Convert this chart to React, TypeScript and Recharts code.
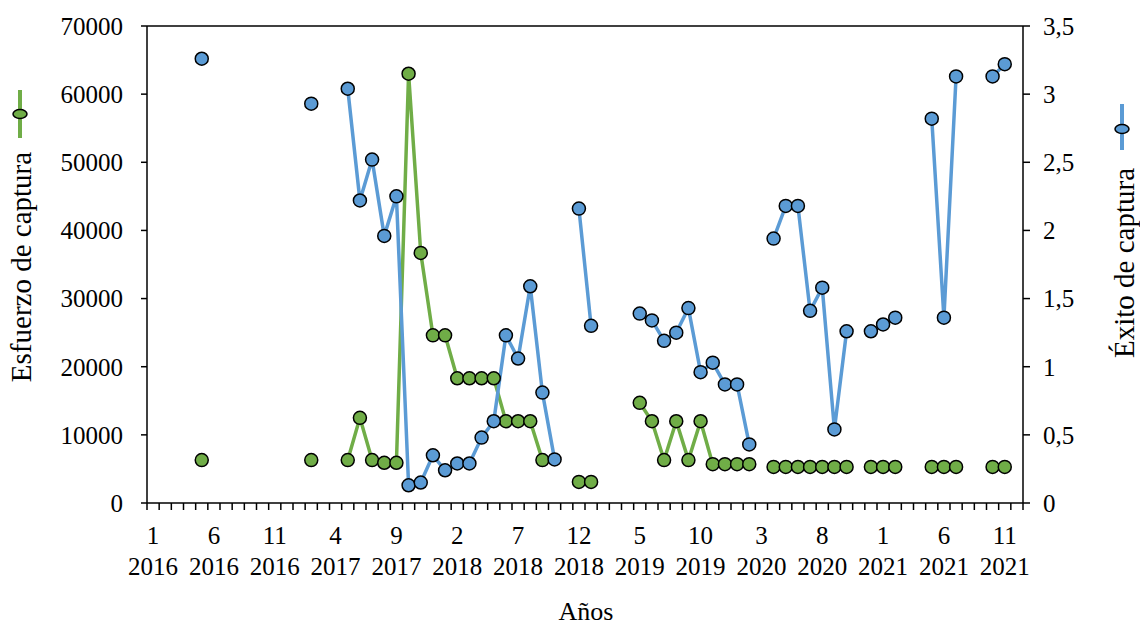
import { Line, LineChart, ReferenceLine, XAxis, YAxis } from 'recharts';

// monthly series, January 2016 to December 2021 (null = no sampling that month)
const esfuerzo: (number | null)[] = [
  null, null, null, null, 6300, null, null, null, null, null, null, null,
  null, 6300, null, null, 6300, 12500, 6300, 5900, 5900, 63000, 36700, 24600,
  24600, 18300, 18300, 18300, 18300, 12000, 12000, 12000, 6300, null, null, 3100,
  3100, null, null, null, 14700, 12000, 6300, 12000, 6300, 12000, 5700, 5700,
  5700, 5700, null, 5300, 5300, 5300, 5300, 5300, 5300, 5300, null, 5300,
  5300, 5300, null, null, 5300, 5300, 5300, null, null, 5300, 5300, null,
];

const exito: (number | null)[] = [
  null, null, null, null, 3.26, null, null, null, null, null, null, null,
  null, 2.93, null, null, 3.04, 2.22, 2.52, 1.96, 2.25, 0.13, 0.15, 0.35,
  0.24, 0.29, 0.29, 0.48, 0.6, 1.23, 1.06, 1.59, 0.81, 0.32, null, 2.16,
  1.3, null, null, null, 1.39, 1.34, 1.19, 1.25, 1.43, 0.96, 1.03, 0.87,
  0.87, 0.43, null, 1.94, 2.18, 2.18, 1.41, 1.58, 0.54, 1.26, null, 1.26,
  1.31, 1.36, null, null, 2.82, 1.36, 3.13, null, null, 3.13, 3.22, null,
];

// labelled months, one every five
const tickMonths = ['1', '6', '11', '4', '9', '2', '7', '12', '5', '10', '3', '8', '1', '6', '11'];
const tickYears = ['2016', '2016', '2016', '2017', '2017', '2018', '2018', '2018', '2019', '2019', '2020', '2020', '2021', '2021', '2021'];

const leftTicks = [0, 10000, 20000, 30000, 40000, 50000, 60000, 70000];
const rightTicks = [0, 0.5, 1, 1.5, 2, 2.5, 3, 3.5];

const GREEN = '#70AD47';
const BLUE = '#5B9BD5';
const FONT = "'Liberation Serif', 'Times New Roman', serif";

const N = esfuerzo.length;
const PLOT_W = 876;
const STEP = PLOT_W / N;

const rows = esfuerzo.map((v, i) => ({ pos: i + 0.5, esfuerzo: v, exito: exito[i] }));
const boundaries = Array.from({ length: N + 1 }, (_, i) => i);

function MonthTick(props: any) {
  const { x, y, payload } = props;
  const i = payload.value;
  if (i % 5 !== 0 || i / 5 >= tickMonths.length) return null;
  const k = i / 5;
  const cx = x + STEP / 2;
  return (
    <g>
      <text x={cx} y={y + 34} textAnchor="middle" fontSize={25} fontFamily={FONT} fill="#000">
        {tickMonths[k]}
      </text>
      <text x={cx} y={y + 65} textAnchor="middle" fontSize={25} fontFamily={FONT} fill="#000">
        {tickYears[k]}
      </text>
    </g>
  );
}

const axisStroke = { stroke: '#000', strokeWidth: 1.5 };
const tickFont = { fontSize: 25, fontFamily: FONT, fill: '#000' };

export default function App() {
  return (
    <div style={{ position: 'absolute', left: 0, top: 0, background: '#fff' }}>
      <LineChart width={1140} height={628} data={rows} margin={{ top: 26, right: 37, bottom: 45, left: 67 }}>
        <XAxis
          type="number"
          dataKey="pos"
          domain={[0, N]}
          ticks={boundaries}
          interval={0}
          tick={<MonthTick />}
          tickSize={7}
          tickMargin={0}
          tickLine={axisStroke}
          axisLine={axisStroke}
          height={80}
        />
        <YAxis
          yAxisId="left"
          domain={[0, 70000]}
          ticks={leftTicks}
          interval={0}
          width={80}
          tickSize={6}
          tickMargin={18}
          tickLine={axisStroke}
          axisLine={axisStroke}
          tick={tickFont}
        />
        <YAxis
          yAxisId="right"
          orientation="right"
          domain={[0, 3.5]}
          ticks={rightTicks}
          interval={0}
          width={80}
          tickSize={7}
          tickMargin={13}
          tickLine={axisStroke}
          axisLine={axisStroke}
          tick={{ ...tickFont, textAnchor: 'start' }}
          tickFormatter={(v: number) => String(v).replace('.', ',')}
        />
        <ReferenceLine yAxisId="left" y={70000} stroke="#000" strokeWidth={1.5} />
        <Line
          yAxisId="left"
          dataKey="esfuerzo"
          stroke={GREEN}
          strokeWidth={3.5}
          dot={{ r: 6.5, fill: GREEN, stroke: '#000', strokeWidth: 1.5 }}
          isAnimationActive={false}
        />
        <Line
          yAxisId="right"
          dataKey="exito"
          stroke={BLUE}
          strokeWidth={3.5}
          dot={{ r: 6.5, fill: BLUE, stroke: '#000', strokeWidth: 1.5 }}
          isAnimationActive={false}
        />

        {/* axis titles with their series keys */}
        <line x1={20} y1={90} x2={20} y2={138} stroke={GREEN} strokeWidth={4} />
        <ellipse cx={20} cy={114} rx={7} ry={4.5} fill={GREEN} stroke="#000" strokeWidth={1.5} />
        <text x={31} y={267} transform="rotate(-90 31 267)" textAnchor="middle" fontSize={29} fontFamily={FONT} fill="#000">
          Esfuerzo de captura
        </text>

        <line x1={1122} y1={104} x2={1122} y2={150} stroke={BLUE} strokeWidth={4} />
        <ellipse cx={1122} cy={129} rx={7} ry={4.5} fill={BLUE} stroke="#000" strokeWidth={1.5} />
        <text x={1134} y={263} transform="rotate(-90 1134 263)" textAnchor="middle" fontSize={29} fontFamily={FONT} fill="#000">
          Éxito de captura
        </text>

        <text x={586} y={620} textAnchor="middle" fontSize={26} fontFamily={FONT} fill="#000">
          Años
        </text>
      </LineChart>
    </div>
  );
}
